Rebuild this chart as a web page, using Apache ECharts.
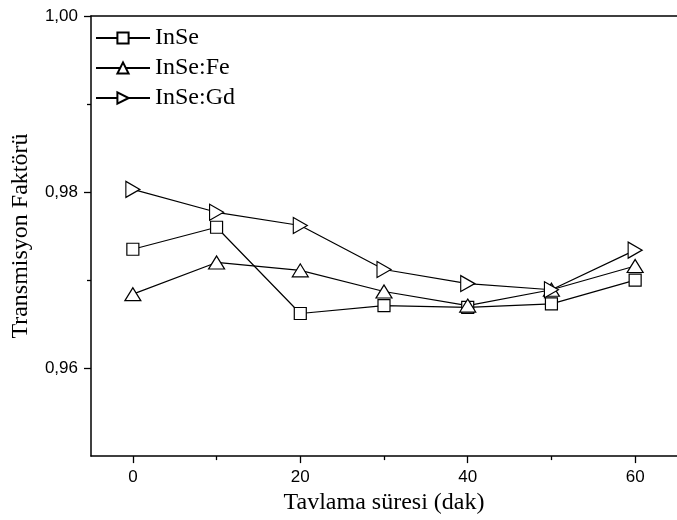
<!DOCTYPE html>
<html>
<head>
<meta charset="utf-8">
<script src="https://cdn.jsdelivr.net/npm/echarts@6/dist/echarts.min.js"></script>
<style>
html,body{margin:0;padding:0;background:#fff;}
#chart{width:677px;height:520px;}
</style>
</head>
<body>
<div id="chart"></div>
<script>
const times = [0, 10, 20, 30, 40, 50, 60];
const inse   = [0.9735, 0.9760, 0.9662, 0.9671, 0.9669, 0.9673, 0.9700];
const inseFe = [0.9684, 0.9720, 0.9711, 0.9687, 0.9671, 0.9689, 0.9716];
const inseGd = [0.9803, 0.9777, 0.9762, 0.9712, 0.9696, 0.9689, 0.9734];
const xTickLabels = [0, 20, 40, 60];
const xMinorTicks = [10, 30, 50];
const yTickLabels = [0.96, 0.98, 1.00];
const yMinorTicks = [0.97, 0.99];
const seriesNames = ['InSe', 'InSe:Fe', 'InSe:Gd'];

const serif = '"Liberation Serif","Times New Roman",serif';
const sans = '"Liberation Sans",Arial,sans-serif';

function pairs(ys){ return times.map((t,i)=>[t, ys[i]]); }

const chart = echarts.init(document.getElementById('chart'), null, {renderer:'canvas'});

const baseSeries = (name, data, symbol, size, rotate) => ({
  name: name,
  type: 'line',
  xAxisIndex: 0,
  yAxisIndex: 0,
  data: pairs(data),
  symbol: symbol,
  symbolSize: size,
  symbolRotate: rotate,
  showAllSymbol: true,
  lineStyle: {color: '#000', width: 1.2},
  itemStyle: {color: '#fff', borderColor: '#000', borderWidth: 1.2},
  emphasis: {disabled: true},
  animation: false
});

chart.setOption({
  animation: false,
  backgroundColor: '#fff',
  grid: {left: 91, top: 16, bottom: 60, right: -7, containLabel: false},
  legend: {
    orient: 'vertical',
    left: 90,
    top: 21,
    itemWidth: 54,
    itemHeight: 14,
    itemGap: 6,
    symbolRotate: 'inherit',
    textStyle: {fontFamily: serif, fontSize: 24, color: '#000'},
    data: seriesNames
  },
  xAxis: [
    {
      type: 'value', min: -5, max: 65, position: 'bottom',
      splitLine: {show: false},
      axisLine: {show: true, onZero: false, lineStyle: {color: '#000', width: 1.5}},
      axisTick: {show: true, inside: false, length: 7, customValues: xTickLabels, lineStyle: {color: '#000', width: 1.3}},
      axisLabel: {show: true, customValues: xTickLabels, margin: 13, fontFamily: sans, fontSize: 17, color: '#000'},
      name: 'Tavlama süresi (dak)', nameLocation: 'middle', nameGap: 32,
      nameTextStyle: {fontFamily: serif, fontSize: 24, color: '#000'}
    },
    {
      type: 'value', min: -5, max: 65, position: 'bottom',
      splitLine: {show: false},
      axisLine: {show: false, onZero: false},
      axisTick: {show: true, inside: false, length: 4, customValues: xMinorTicks, lineStyle: {color: '#000', width: 1.3}},
      axisLabel: {show: false}
    },
    {
      type: 'value', min: -5, max: 65, position: 'top',
      splitLine: {show: false},
      axisLine: {show: true, onZero: false, lineStyle: {color: '#000', width: 1.5}},
      axisTick: {show: false},
      axisLabel: {show: false}
    }
  ],
  yAxis: [
    {
      type: 'value', min: 0.95, max: 1.00, position: 'left',
      splitLine: {show: false},
      axisLine: {show: true, onZero: false, lineStyle: {color: '#000', width: 1.5}},
      axisTick: {show: true, inside: false, length: 7, customValues: yTickLabels, lineStyle: {color: '#000', width: 1.3}},
      axisLabel: {show: true, customValues: yTickLabels, margin: 13, fontFamily: sans, fontSize: 17, color: '#000',
        formatter: v => v.toFixed(2).replace('.', ',')},
      name: 'Transmisyon Faktörü', nameLocation: 'middle', nameGap: 58,
      nameTextStyle: {fontFamily: serif, fontSize: 24, color: '#000'}
    },
    {
      type: 'value', min: 0.95, max: 1.00, position: 'left',
      splitLine: {show: false},
      axisLine: {show: false, onZero: false},
      axisTick: {show: true, inside: false, length: 4, customValues: yMinorTicks, lineStyle: {color: '#000', width: 1.3}},
      axisLabel: {show: false}
    }
  ],
  series: [
    baseSeries(seriesNames[0], inse, 'rect', 12, 0),
    baseSeries(seriesNames[1], inseFe, 'triangle', [16, 13], 0),
    baseSeries(seriesNames[2], inseGd, 'triangle', [16, 14], -90)
  ]
});
</script>
</body>
</html>
